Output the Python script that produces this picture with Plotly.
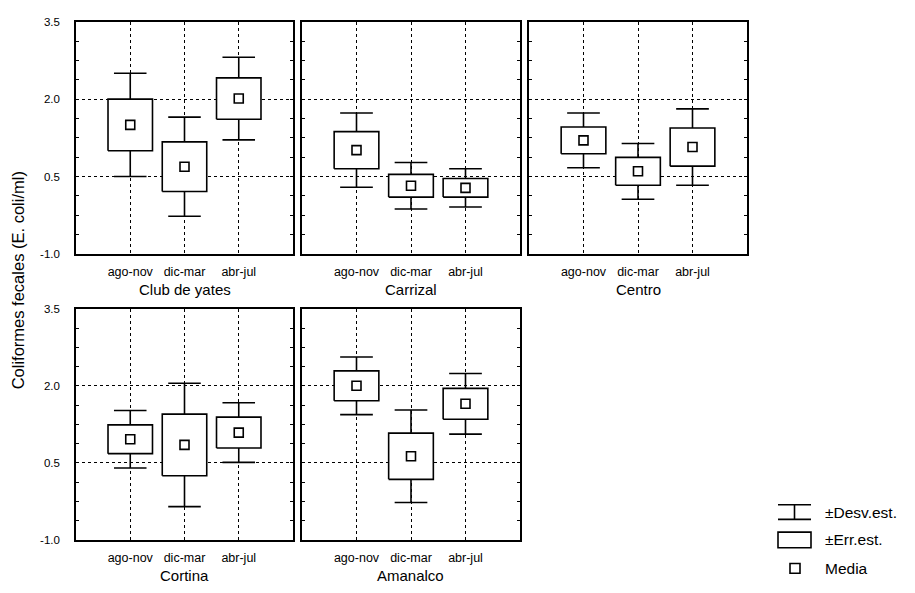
import plotly.graph_objects as go

# Sampling periods (x categories)
seasons = ["ago-nov", "dic-mar", "abr-jul"]

# Sites, one panel each
sites = ["Club de yates", "Carrizal", "Centro", "Cortina", "Amanalco"]

# Mean, standard error and standard deviation per site and period
club_mean = [1.50, 0.69, 2.01]
club_se = [0.50, 0.48, 0.40]
club_sd = [1.00, 0.96, 0.80]

carrizal_mean = [1.01, 0.32, 0.28]
carrizal_se = [0.36, 0.22, 0.18]
carrizal_sd = [0.72, 0.45, 0.37]

centro_mean = [1.20, 0.60, 1.07]
centro_se = [0.26, 0.27, 0.37]
centro_sd = [0.53, 0.54, 0.74]

cortina_mean = [0.96, 0.85, 1.09]
cortina_se = [0.28, 0.60, 0.30]
cortina_sd = [0.56, 1.20, 0.58]

amanalco_mean = [2.00, 0.63, 1.65]
amanalco_se = [0.29, 0.45, 0.30]
amanalco_sd = [0.56, 0.90, 0.59]

y_ticks = [-1.0, 0.5, 2.0, 3.5]

W, H = 915, 593
FONT = "Liberation Sans, Arial, sans-serif"
BOX_HALF = 0.41
CAP_HALF = 0.30

site_data = [
    (club_mean, club_se, club_sd),
    (carrizal_mean, carrizal_se, carrizal_sd),
    (centro_mean, centro_se, centro_sd),
    (cortina_mean, cortina_se, cortina_sd),
    (amanalco_mean, amanalco_se, amanalco_sd),
]

# Panel frames in pixels: (left, right, top, bottom)
col_px = [(76, 293), (302, 520), (529, 747)]
row_px = [(16, 253), (309, 545)]
panel_pos = [(0, 0), (0, 1), (0, 2), (1, 0), (1, 1)]

fig = go.Figure()
layout = dict(
    width=W, height=H,
    margin=dict(l=0, r=0, t=0, b=0),
    paper_bgcolor="white", plot_bgcolor="white",
    showlegend=False,
    font=dict(family=FONT, color="black"),
)
annotations = []
shapes = []

xs = list(range(len(seasons)))

for i, (site, (mean, se, sd)) in enumerate(zip(sites, site_data)):
    n = i + 1
    sfx = "" if n == 1 else str(n)
    r, c = panel_pos[i]
    x0, x1 = col_px[c]
    y0, y1 = row_px[r]
    xdom = [x0 / W, x1 / W]
    ydom = [1 - y1 / H, 1 - y0 / H]

    layout["xaxis" + sfx] = dict(
        domain=xdom, anchor="y" + sfx, range=[-1, 3],
        tickmode="array", tickvals=xs, ticktext=seasons,
        showgrid=True, gridcolor="black", griddash="dot", gridwidth=1,
        showline=True, linecolor="black", linewidth=1.6, mirror=True,
        ticks="", zeroline=False, fixedrange=True,
        tickfont=dict(size=12.5, family=FONT), ticklabelstandoff=5,
    )
    layout["yaxis" + sfx] = dict(
        domain=ydom, anchor="x" + sfx, range=[-1, 3.5],
        tickmode="array", tickvals=y_ticks,
        ticktext=[f"{v:.1f}" for v in y_ticks],
        showticklabels=(c == 0),
        showgrid=True, gridcolor="black", griddash="dot", gridwidth=1,
        showline=True, linecolor="black", linewidth=1.6, mirror="allticks",
        ticks="inside", ticklen=3, tickcolor="black", zeroline=False,
        minor=dict(tick0=-1, dtick=0.375, ticks="inside", ticklen=3,
                   tickcolor="black", showgrid=False),
        tickfont=dict(size=11.5, family=FONT), ticklabelstandoff=12,
        fixedrange=True,
    )

    # Whiskers: mean ± SD with caps, drawn outside the SE box
    wx, wy = [], []
    for x, m, e, d in zip(xs, mean, se, sd):
        wx += [x, x, None, x, x, None,
               x - CAP_HALF, x + CAP_HALF, None, x - CAP_HALF, x + CAP_HALF, None]
        wy += [m + e, m + d, None, m - e, m - d, None,
               m + d, m + d, None, m - d, m - d, None]
    fig.add_trace(go.Scatter(
        x=wx, y=wy, mode="lines", line=dict(color="black", width=1.6),
        xaxis="x" + sfx, yaxis="y" + sfx, hoverinfo="skip"))

    # Boxes: mean ± SE, white filled
    bx, by = [], []
    for x, m, e in zip(xs, mean, se):
        bx += [x - BOX_HALF, x + BOX_HALF, x + BOX_HALF, x - BOX_HALF, x - BOX_HALF, None]
        by += [m - e, m - e, m + e, m + e, m - e, None]
    fig.add_trace(go.Scatter(
        x=bx, y=by, mode="lines", fill="toself", fillcolor="white",
        line=dict(color="black", width=1.6),
        xaxis="x" + sfx, yaxis="y" + sfx, hoverinfo="skip"))

    # Mean markers
    fig.add_trace(go.Scatter(
        x=xs, y=mean, mode="markers",
        marker=dict(symbol="square", size=9, color="white",
                    line=dict(color="black", width=1.6)),
        xaxis="x" + sfx, yaxis="y" + sfx))

    # Site name under each panel
    annotations.append(dict(
        text=site, xref="paper", yref="paper",
        x=(xdom[0] + xdom[1]) / 2, y=1 - (y1 + 36) / H,
        xanchor="center", yanchor="middle", showarrow=False,
        font=dict(size=15, family=FONT)))

# Shared y-axis title
annotations.append(dict(
    text="Coliformes fecales (E. coli/ml)", xref="paper", yref="paper",
    x=18 / W, y=1 - 280 / H, textangle=-90, showarrow=False,
    xanchor="center", yanchor="middle", font=dict(size=16.5, family=FONT)))

# Key
def px(x):
    return x / W


def py(y):
    return 1 - y / H


line_k = dict(color="black", width=1.6)
shapes += [
    dict(type="line", xref="paper", yref="paper", x0=px(778), x1=px(811), y0=py(509), y1=py(509), line=line_k),
    dict(type="line", xref="paper", yref="paper", x0=px(778), x1=px(811), y0=py(524), y1=py(524), line=line_k),
    dict(type="line", xref="paper", yref="paper", x0=px(794.5), x1=px(794.5), y0=py(509), y1=py(524), line=line_k),
    dict(type="rect", xref="paper", yref="paper", x0=px(778), x1=px(811), y0=py(537), y1=py(553), line=line_k),
    dict(type="rect", xref="paper", yref="paper", x0=px(790), x1=px(800), y0=py(569), y1=py(579), line=line_k),
]
for label, yy in [("±Desv.est.", 517), ("±Err.est.", 545), ("Media", 574)]:
    annotations.append(dict(
        text=label, xref="paper", yref="paper", x=px(823), y=py(yy),
        xanchor="left", yanchor="middle", showarrow=False,
        font=dict(size=15.5, family=FONT)))

layout["annotations"] = annotations
layout["shapes"] = shapes
fig.update_layout(**layout)
fig.write_html("out.html")
